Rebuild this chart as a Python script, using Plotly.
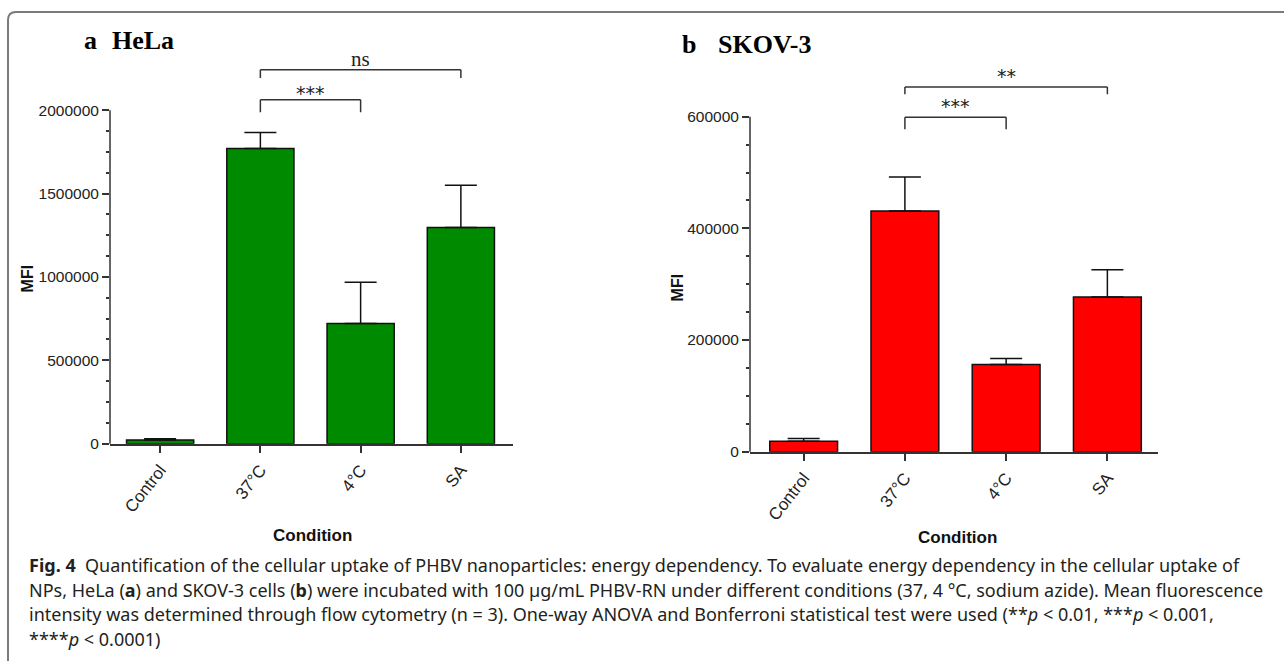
import plotly.graph_objects as go

# ---------------- data ----------------
categories = ["Control", "37°C", "4°C", "SA"]

hela_mfi = [22000, 1770000, 721000, 1297000]
hela_err = [8000, 96000, 247000, 253000]

skov_mfi = [18500, 431000, 156000, 277000]
skov_err = [5000, 61000, 11000, 49000]

hela_ticks = [0, 500000, 1000000, 1500000, 2000000]
skov_ticks = [0, 200000, 400000, 600000]

# significance comparisons: (from, to, label)
hela_comparisons = [("37°C", "SA", "ns"), ("37°C", "4°C", "***")]
skov_comparisons = [("37°C", "SA", "**"), ("37°C", "4°C", "***")]

# ---------------- layout helpers ----------------
W = 1284          # figure width in px
H = 670           # figure height (page viewport height)
REF_H = 661       # reference picture height used for the positions below


def fx(p):
    return p / W


def fy(p):
    return 1 - p / REF_H


AX_COLOR = "#333333"
YTICK_FONT = dict(family="Liberation Sans, Arial", size=15.5, color="#222222")
XTICK_FONT = dict(family="Liberation Sans, Arial", size=17, color="#222222")

# panel geometry (reference pixels)
L_X0, L_X1, L_Y0PX, L_TOPPX, L_TOPVALPX = 110, 513, 443, 55, 110
R_X0, R_X1, R_Y0PX, R_TOPPX, R_TOPVALPX = 750, 1158, 451, 55, 116.5

hela_top = hela_ticks[-1] * (L_Y0PX - L_TOPPX) / (L_Y0PX - L_TOPVALPX)
skov_top = skov_ticks[-1] * (R_Y0PX - R_TOPPX) / (R_Y0PX - R_TOPVALPX)

# bracket heights (top, drop) and label heights
hela_bracket_y = [(2243000, 2193000, 2307000), (2062000, 1988000, 2100000)]
skov_bracket_y = [(653000, 640000, 673000), (599000, 577600, 620000)]

fig = go.Figure()

fig.add_trace(go.Bar(
    x=categories, y=hela_mfi, xaxis="x", yaxis="y", width=0.67,
    marker=dict(color="#008a00", line=dict(color="#111111", width=1.5)),
    error_y=dict(type="data", array=hela_err, arrayminus=[0] * len(hela_err),
                 color="#111111", thickness=1.5, width=16),
    showlegend=False,
))
fig.add_trace(go.Bar(
    x=categories, y=skov_mfi, xaxis="x2", yaxis="y2", width=0.67,
    marker=dict(color="#ff0000", line=dict(color="#111111", width=1.5)),
    error_y=dict(type="data", array=skov_err, arrayminus=[0] * len(skov_err),
                 color="#111111", thickness=1.5, width=16),
    showlegend=False,
))

xaxis_common = dict(
    type="category", showline=True, linecolor=AX_COLOR, linewidth=1.5,
    ticks="outside", ticklen=8, tickwidth=1.5, tickcolor=AX_COLOR,
    tickangle=-52, tickfont=XTICK_FONT, showgrid=False, zeroline=False,
    fixedrange=True,
)
yaxis_common = dict(
    showline=False, ticks="outside", ticklen=7, tickwidth=1.5,
    tickcolor=AX_COLOR, tickfont=YTICK_FONT, tickformat="d",
    showgrid=False, zeroline=False, ticklabelstandoff=0,
)

L_YDOM = [fy(L_Y0PX), fy(L_TOPPX)]
R_YDOM = [fy(R_Y0PX), fy(R_TOPPX)]

fig.update_layout(
    width=W, height=H, margin=dict(l=0, r=0, t=0, b=0),
    paper_bgcolor="white", plot_bgcolor="white",
    xaxis=dict(xaxis_common, domain=[fx(L_X0), fx(L_X1)], anchor="y",
               range=[-0.5, 3.52]),
    yaxis=dict(yaxis_common, domain=L_YDOM, anchor="x",
               range=[0, hela_top], tickvals=hela_ticks,
               minor=dict(tickvals=[i * 125000 for i in range(17)],
                          ticks="outside", ticklen=3, tickwidth=1.5,
                          tickcolor=AX_COLOR)),
    xaxis2=dict(xaxis_common, domain=[fx(R_X0), fx(R_X1)], anchor="y2",
                range=[-0.53, 3.5]),
    yaxis2=dict(yaxis_common, domain=R_YDOM, anchor="x2",
                range=[0, skov_top], tickvals=skov_ticks,
                minor=dict(tickvals=[i * 50000 for i in range(13)],
                           ticks="outside", ticklen=3, tickwidth=1.5,
                           tickcolor=AX_COLOR)),
)

shapes = []
annotations = []

# y-axis lines ending at the top tick (paper coordinates derived from axis range)
for xd, dom, top, rng_top in [(fx(L_X0), L_YDOM, hela_ticks[-1], hela_top),
                              (fx(R_X0), R_YDOM, skov_ticks[-1], skov_top)]:
    y_end = dom[0] + (dom[1] - dom[0]) * top / rng_top
    shapes.append(dict(type="line", xref="paper", yref="paper", x0=xd, x1=xd,
                       y0=dom[0], y1=y_end, line=dict(color=AX_COLOR, width=1.5)))

# significance brackets
for comps, heights, xr, yr in [(hela_comparisons, hela_bracket_y, "x", "y"),
                                (skov_comparisons, skov_bracket_y, "x2", "y2")]:
    for (a, b, lab), (ytop, ydrop, ylab) in zip(comps, heights):
        i, j = categories.index(a), categories.index(b)
        ln = dict(color="#333333", width=1.5)
        shapes.append(dict(type="line", xref=xr, yref=yr, x0=i, x1=j, y0=ytop, y1=ytop, line=ln))
        shapes.append(dict(type="line", xref=xr, yref=yr, x0=i, x1=i, y0=ytop, y1=ydrop, line=ln))
        shapes.append(dict(type="line", xref=xr, yref=yr, x0=j, x1=j, y0=ytop, y1=ydrop, line=ln))
        if lab == "ns":
            fnt = dict(family="Liberation Serif, Times New Roman", size=21, color="#222")
        else:
            fnt = dict(family="DejaVu Sans", size=19, color="#222")
        annotations.append(dict(xref=xr, yref=yr, x=(i + j) / 2, y=ylab, text=lab,
                                showarrow=False, font=fnt, xanchor="center", yanchor="middle"))

# panel titles
title_font = dict(family="Liberation Serif, Times New Roman", size=26, color="#000")
for txt, xp, yp in [("<b>a</b>", 82, 40), ("<b>HeLa</b>", 110, 40),
                    ("<b>b</b>", 680, 44), ("<b>SKOV-3</b>", 716, 44)]:
    annotations.append(dict(xref="paper", yref="paper", x=fx(xp), y=fy(yp), text=txt,
                            showarrow=False, font=title_font, xanchor="left", yanchor="middle"))

# axis titles
lab_font = dict(family="Liberation Sans, Arial", size=16, color="#111")
for xp, yp in [(27, 278), (677, 287)]:
    annotations.append(dict(xref="paper", yref="paper", x=fx(xp), y=fy(yp), text="<b>MFI</b>",
                            textangle=-90, showarrow=False, font=lab_font,
                            xanchor="center", yanchor="middle"))
cond_font = dict(family="Liberation Sans, Arial", size=17, color="#111")
for xp, yp in [(312, 535), (957, 537)]:
    annotations.append(dict(xref="paper", yref="paper", x=fx(xp), y=fy(yp), text="<b>Condition</b>",
                            showarrow=False, font=cond_font, xanchor="center", yanchor="middle"))

# frame (rounded top-left corner)
shapes.append(dict(type="path", xref="paper", yref="paper",
                   path=(f"M {fx(8)},{fy(720)} L {fx(8)},{fy(20)} "
                         f"Q {fx(8)},{fy(12)} {fx(16)},{fy(12)} L {fx(1300)},{fy(12)}"),
                   line=dict(color="#7a7a7a", width=2)))

# caption
caption_lines = [
    "<b>Fig. 4</b>  Quantification of the cellular uptake of PHBV nanoparticles: energy dependency. "
    "To evaluate energy dependency in the cellular uptake of",
    "NPs, HeLa (<b>a</b>) and SKOV-3 cells (<b>b</b>) were incubated with 100 µg/mL PHBV-RN under "
    "different conditions (37, 4 °C, sodium azide). Mean fluorescence",
    "intensity was determined through flow cytometry (n = 3). One-way ANOVA and Bonferroni statistical "
    "test were used (**<i>p</i> &lt; 0.01, ***<i>p</i> &lt; 0.001,",
    "****<i>p</i> &lt; 0.0001)",
]
cap_font = dict(family="Noto Sans, Open Sans", size=18, color="#231f20")
for k, line in enumerate(caption_lines):
    annotations.append(dict(xref="paper", yref="paper", x=fx(27), y=fy(564 + 24.7 * k), text=line,
                            showarrow=False, font=cap_font, xanchor="left", yanchor="middle",
                            align="left"))

fig.update_layout(shapes=shapes, annotations=annotations)

page_css = ("var s=document.createElement('style');"
            "s.innerHTML='html,body{margin:0;padding:0;overflow:hidden;}"
            ".plotly-graph-div,.svg-container{display:block;}';"
            "document.head.appendChild(s);")
fig.write_html("out.html", config={"displayModeBar": False}, post_script=page_css)
